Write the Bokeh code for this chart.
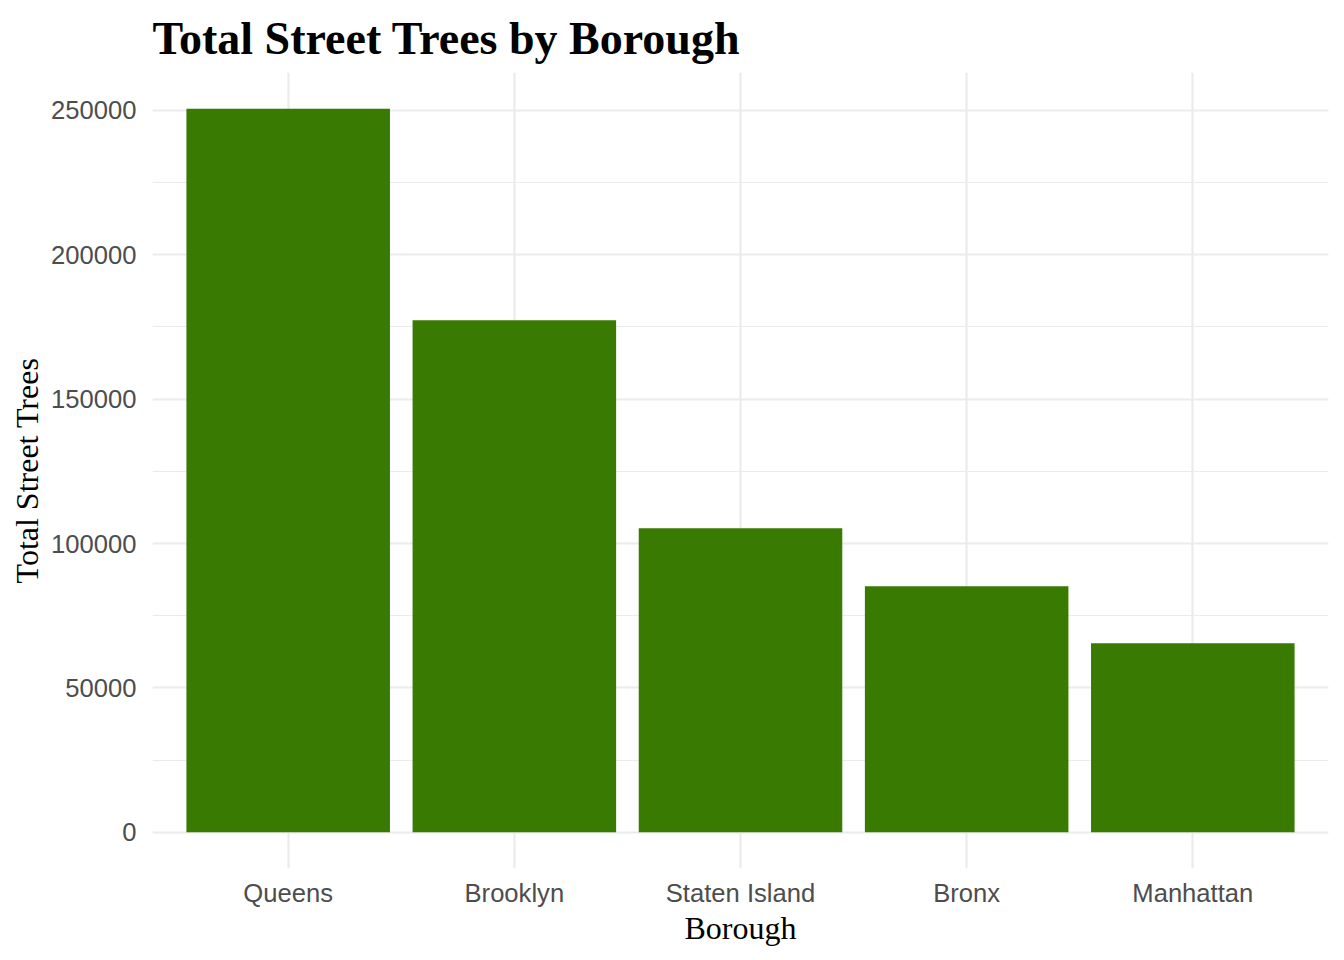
from bokeh.plotting import figure
from bokeh.models import FactorRange, Range1d, SingleIntervalTicker, BasicTickFormatter
from bokeh.embed import file_html
from bokeh.resources import INLINE

boroughs = ["Queens", "Brooklyn", "Staten Island", "Bronx", "Manhattan"]
total_trees = [250551, 177293, 105318, 85203, 65423]

ymax = max(total_trees)
pad = ymax * 0.05

p = figure(
    x_range=FactorRange(factors=boroughs, range_padding=0.04, range_padding_units="percent"),
    y_range=Range1d(-pad, ymax + pad),
    frame_width=1176, frame_height=796,
    min_border_left=152, min_border_right=8, min_border_top=72, min_border_bottom=84,
    output_backend="svg", toolbar_location=None,
    title="Total Street Trees by Borough",
)

p.vbar(x=boroughs, top=total_trees, width=0.9, color="#387a02", line_color=None)

p.title.text_font = "Liberation Serif"
p.title.text_font_style = "bold"
p.title.text_font_size = "46px"
p.title.text_color = "black"
p.title.offset = 0
p.title.standoff = 18

p.outline_line_color = None
p.background_fill_color = "white"
p.border_fill_color = "white"

p.yaxis.ticker = SingleIntervalTicker(interval=50000, num_minor_ticks=2)
p.yaxis.formatter = BasicTickFormatter(use_scientific=False)

for ax in (p.xaxis[0], p.yaxis[0]):
    ax.axis_line_color = None
    ax.major_tick_line_color = None
    ax.minor_tick_line_color = None
    ax.major_tick_out = 0
    ax.major_tick_in = 0
    ax.major_label_text_font = "Liberation Sans"
    ax.major_label_text_font_size = "25.6px"
    ax.major_label_text_color = "#4d4d4d"
    ax.axis_label_text_font = "Liberation Serif"
    ax.axis_label_text_font_size = "32px"
    ax.axis_label_text_font_style = "normal"
    ax.axis_label_text_color = "black"

p.xaxis.axis_label = "Borough"
p.yaxis.axis_label = "Total Street Trees"
p.xaxis.major_label_standoff = 10
p.yaxis.major_label_standoff = 12
p.xaxis.axis_label_standoff = 0
p.yaxis.axis_label_standoff = 3

p.xgrid.grid_line_color = "#ebebeb"
p.xgrid.grid_line_width = 2.2
p.ygrid.grid_line_color = "#ebebeb"
p.ygrid.grid_line_width = 2.2
p.ygrid.minor_grid_line_color = "#ebebeb"
p.ygrid.minor_grid_line_width = 1.2

open("out.html", "w").write(file_html(p, INLINE))
